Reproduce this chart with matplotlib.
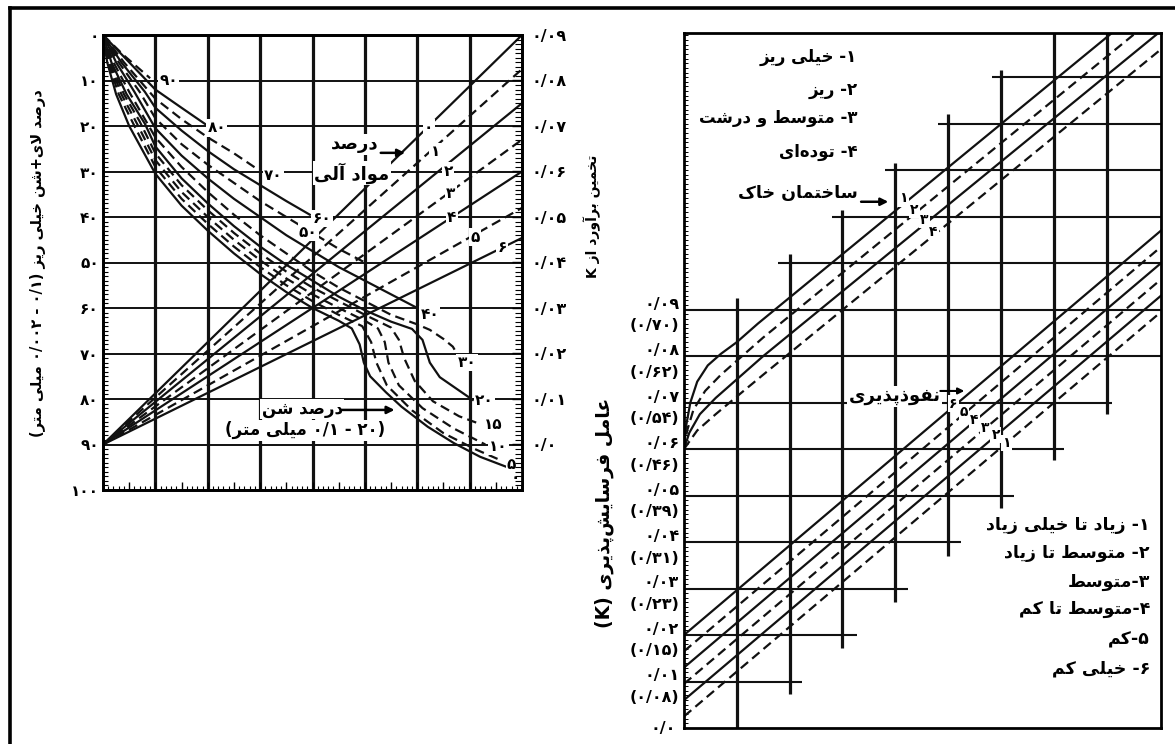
import re
import matplotlib
matplotlib.use("Agg")
import matplotlib.pyplot as plt
from matplotlib.lines import Line2D
from matplotlib.ticker import MultipleLocator, NullFormatter

plt.rcParams['font.family'] = ['DejaVu Sans']
plt.rcParams['font.weight'] = 'bold'

# ------------------------------------------------------------------
# Persian shaping (presentation forms) + simple visual reordering
# ------------------------------------------------------------------
FORMS = {
    'ا': ('\uFE8D', '\uFE8E', None, None),
    'آ': ('\uFE81', '\uFE82', None, None),
    'ب': ('\uFE8F', '\uFE90', '\uFE91', '\uFE92'),
    'پ': ('\uFB56', '\uFB57', '\uFB58', '\uFB59'),
    'ت': ('\uFE95', '\uFE96', '\uFE97', '\uFE98'),
    'خ': ('\uFEA5', '\uFEA6', '\uFEA7', '\uFEA8'),
    'د': ('\uFEA9', '\uFEAA', None, None),
    'ذ': ('\uFEAB', '\uFEAC', None, None),
    'ر': ('\uFEAD', '\uFEAE', None, None),
    'ز': ('\uFEAF', '\uFEB0', None, None),
    'س': ('\uFEB1', '\uFEB2', '\uFEB3', '\uFEB4'),
    'ش': ('\uFEB5', '\uFEB6', '\uFEB7', '\uFEB8'),
    'ص': ('\uFEB9', '\uFEBA', '\uFEBB', '\uFEBC'),
    'ط': ('\uFEC1', '\uFEC2', '\uFEC3', '\uFEC4'),
    'ع': ('\uFEC9', '\uFECA', '\uFECB', '\uFECC'),
    'ف': ('\uFED1', '\uFED2', '\uFED3', '\uFED4'),
    'ک': ('\uFB8E', '\uFB8F', '\uFB90', '\uFB91'),
    'ل': ('\uFEDD', '\uFEDE', '\uFEDF', '\uFEE0'),
    'م': ('\uFEE1', '\uFEE2', '\uFEE3', '\uFEE4'),
    'ن': ('\uFEE5', '\uFEE6', '\uFEE7', '\uFEE8'),
    'و': ('\uFEED', '\uFEEE', None, None),
    'ه': ('\uFEE9', '\uFEEA', '\uFEEB', '\uFEEC'),
    'ی': ('\uFBFC', '\uFBFD', '\uFBFE', '\uFBFF'),
}
LAMALEF = {'ا': ('\uFEFB', '\uFEFC'), 'آ': ('\uFEF5', '\uFEF6')}


def _dual(c):
    return c in FORMS and FORMS[c][2] is not None


def shape(s):
    out = []
    n = len(s)
    i = 0
    while i < n:
        c = s[i]
        if c == '\u200c':
            i += 1
            continue
        if c not in FORMS:
            out.append(c)
            i += 1
            continue
        prev = s[i - 1] if i > 0 else None
        pj = prev is not None and _dual(prev)
        if c == 'ل' and i + 1 < n and s[i + 1] in LAMALEF:
            lig = LAMALEF[s[i + 1]]
            out.append(lig[1] if pj else lig[0])
            i += 2
            continue
        nxt = s[i + 1] if i + 1 < n else None
        nj = _dual(c) and nxt is not None and nxt in FORMS
        f = FORMS[c]
        if pj and nj:
            g = f[3]
        elif pj:
            g = f[1]
        elif nj:
            g = f[2]
        else:
            g = f[0]
        out.append(g)
        i += 1
    return ''.join(out)


def fa(s):
    rev = shape(s)[::-1]
    rev = re.sub(r'[0-9۰-۹][0-9۰-۹/.]*[0-9۰-۹]|[0-9۰-۹]',
                 lambda m: m.group(0)[::-1], rev)
    return rev.translate(str.maketrans('()', ')('))


# ------------------------------------------------------------------
# DATA - left panel (x: construction columns 0-8, y: silt+vfs %)
# ------------------------------------------------------------------
silt_ticks = [0, 10, 20, 30, 40, 50, 60, 70, 80, 90, 100]
silt_tick_labels = ['۰', '۱۰', '۲۰', '۳۰', '۴۰', '۵۰', '۶۰', '۷۰', '۸۰', '۹۰', '۱۰۰']
k1_ticks = [0, 10, 20, 30, 40, 50, 60, 70, 80, 90]
k1_tick_labels = ['۰/۰۹', '۰/۰۸', '۰/۰۷', '۰/۰۶', '۰/۰۵', '۰/۰۴', '۰/۰۳', '۰/۰۲', '۰/۰۱', '۰/۰']
left_vgrid_x = [1, 2, 3, 4, 5, 6, 7]
left_hgrid_y = [10, 20, 30, 40, 50, 60, 70, 80, 90]

# percent sand curves
sand_90 = [(0, 0), (0.4, 4.5), (0.9, 9.5)]
sand_80 = [(0, 0), (0.5, 6), (1, 12), (1.5, 16), (1.98, 19.8)]
sand_70 = [(0, 0), (0.4, 6), (1, 14), (1.5, 18.5), (2, 22.5), (2.5, 26), (2.95, 29.5)]
sand_60 = [(0, 0), (0.35, 6), (0.8, 12.5), (1, 16), (1.5, 21), (2, 25.5), (2.5, 29.5),
           (3, 33), (3.5, 36.5), (3.95, 39.5)]
sand_50 = [(0, 0), (0.3, 6), (0.7, 12.5), (1, 18.3), (1.5, 24), (2, 28.5), (2.5, 32.5),
           (3, 36.5), (3.5, 40), (4, 43.5), (4.5, 47), (5, 50)]
sand_40 = [(0, 0), (0.25, 6), (0.6, 12.5), (1, 20.5), (1.5, 26.5), (2, 31.5), (2.5, 36),
           (3, 40), (3.5, 44), (4, 47.5), (4.5, 51), (5, 54), (5.5, 57), (6, 60)]
sand_30 = [(0, 0), (0.2, 6), (0.5, 12.5), (1, 22.5), (1.5, 29), (2, 34.5), (2.5, 39.5),
           (3, 44), (3.5, 48), (4, 52), (4.5, 55.5), (5, 58.5), (5.5, 61.5), (6, 63.6),
           (6.24, 64.8), (6.5, 66.8), (6.68, 68.5), (6.77, 70.3)]
sand_20 = [(0, 0), (0.16, 6), (0.45, 13), (0.8, 19.5), (1, 24.5), (1.5, 31.5), (2, 37),
           (2.5, 42), (3, 46.5), (3.5, 50.5), (4, 54), (4.5, 57.5), (5, 60.5), (5.5, 63),
           (5.9, 64.6), (6.1, 67), (6.24, 72), (6.43, 75.2), (6.87, 78.7), (7.06, 80.2)]
sand_15 = [(0, 0), (0.14, 6), (0.4, 13), (0.7, 19), (1, 26), (1.5, 33), (2, 38.5),
           (2.5, 43.5), (3, 48), (3.5, 52), (4, 55.5), (4.5, 58.5), (5, 61.5), (5.5, 64.3),
           (5.65, 67), (5.75, 71), (5.95, 76), (6.3, 80.5), (6.8, 83.8), (7.2, 85.5)]
sand_10 = [(0, 0), (0.12, 6), (0.35, 13), (0.65, 19.5), (1, 27.5), (1.5, 34.5), (2, 40),
           (2.5, 45), (3, 49.5), (3.5, 53.5), (4, 57), (4.5, 60), (5, 62.8), (5.25, 64.5),
           (5.38, 67.5), (5.45, 72), (5.65, 77), (6.1, 82), (6.7, 86.5), (7.3, 90)]
sand_5 = [(0, 0), (0.1, 6), (0.3, 13), (0.6, 20), (1, 29), (1.5, 36), (2, 41.5),
          (2.5, 46.5), (3, 51), (3.5, 55), (4, 58.5), (4.5, 61.5), (4.95, 64),
          (5.12, 67.5), (5.22, 72), (5.42, 77), (5.9, 82.5), (6.5, 87.5), (7.1, 91), (7.6, 93.5)]
sand_0 = [(0, 0), (0.08, 6), (0.25, 13), (0.5, 20), (1, 30.5), (1.5, 37.5), (2, 43),
          (2.5, 48), (3, 52.5), (3.5, 56.5), (4, 60), (4.5, 62.8), (4.75, 64.5),
          (4.9, 68), (4.98, 72), (5.1, 75), (5.4, 78.5), (5.7, 81.7), (6.2, 86.1),
          (6.7, 89.7), (7.2, 92.7), (7.7, 94.9), (7.95, 96.3)]
sand_curves = [sand_90, sand_80, sand_70, sand_60, sand_50, sand_40,
               sand_30, sand_20, sand_15, sand_10, sand_5, sand_0]
sand_dashed = [True, False, True, False, True, False, True, False, True, True, True, False]
sand_labels = ['۹۰', '۸۰', '۷۰', '۶۰', '۵۰', '۴۰', '۳۰', '۲۰', '۱۵', '۱۰', '۵', '۰']
sand_label_x = [1.25, 2.17, 3.25, 4.18, 3.92, 6.24, 6.95, 7.28, 7.45, 7.55, 7.8, 7.88]
sand_label_y = [10, 20.4, 30.8, 40.3, 43.3, 61.5, 72, 80.4, 85.7, 90.5, 94.3, 97.2]

# percent organic matter lines (from the left edge at y=90 to the right edge)
om_origin_y = 90
om_x = [0, 8]
om_end_y = [0, 7.5, 15, 23, 30, 38, 44.6]
om_dashed = [False, True, False, True, False, True, False]
om_labels = ['۰', '۱', '۲', '۳', '۴', '۵', '۶']
om_label_x = [6.22, 6.34, 6.59, 6.64, 6.66, 7.1, 7.62]
om_label_y = [20.4, 25.7, 29.9, 34.9, 40.0, 44.4, 46.8]

# ------------------------------------------------------------------
# DATA - right panel (x: columns 0-9, y: K x 100)
# ------------------------------------------------------------------
k_ticks = [0, 1, 2, 3, 4, 5, 6, 7, 8, 9]
k_labels = ['۰/۰', '۰/۰۱', '۰/۰۲', '۰/۰۳', '۰/۰۴', '۰/۰۵', '۰/۰۶', '۰/۰۷', '۰/۰۸', '۰/۰۹']
k_si_labels = ['', '(۰/۰۸)', '(۰/۱۵)', '(۰/۲۳)', '(۰/۳۱)', '(۰/۳۹)',
               '(۰/۴۶)', '(۰/۵۴)', '(۰/۶۲)', '(۰/۷۰)']

right_hgrid_k = [1, 2, 3, 4, 5, 6, 7, 8, 9, 10, 11, 12, 13, 14]
right_hgrid_x0 = [0, 0, 0, 0, 0, 0, 0, 0, 0, 1.78, 2.8, 3.8, 4.8, 5.83]
right_hgrid_x1 = [2.23, 3.28, 4.24, 5.25, 6.25, 7.2, 8.1, 9.03, 9.03, 9.03, 9.03, 9.03, 9.03, 9.03]
right_vgrid_x = [1, 2, 3, 4, 5, 6, 7, 8]
right_vgrid_k0 = [0, 0.73, 1.72, 2.71, 3.7, 4.73, 5.76, 6.75]
right_vgrid_k1 = [9.25, 10.2, 11.14, 12.15, 13.2, 14.15, 14.95, 14.95]

# soil structure lines
struct_1 = [(0, 6.0), (0.04, 6.5), (0.12, 7.0), (0.25, 7.45), (0.45, 7.8), (0.7, 8.05),
            (1.0, 8.3), (1.4, 8.7), (8.1, 14.95)]
struct_2 = [(0, 6.0), (0.06, 6.4), (0.18, 6.85), (0.4, 7.25), (0.7, 7.6), (1.0, 7.9),
            (1.5, 8.4), (8.55, 14.95)]
struct_3 = [(0, 6.0), (0.1, 6.35), (0.3, 6.75), (0.6, 7.1), (1.0, 7.5), (1.5, 8.0),
            (8.98, 14.95)]
struct_4 = [(0, 6.0), (0.25, 6.4), (0.6, 6.75), (1.0, 7.13), (1.5, 7.6), (9.03, 14.6)]
struct_lines = [struct_1, struct_2, struct_3, struct_4]
struct_dashed = [False, True, False, True]
struct_labels = ['۱', '۲', '۳', '۴']
struct_label_x = [4.15, 4.36, 4.55, 4.72]
struct_label_k = [11.39, 11.14, 10.93, 10.68]

# permeability lines (6 = top ... 1 = bottom)
perm_x = [0, 9.03]
perm_k_left = [2.0, 1.65, 1.3, 0.95, 0.6, 0.25]
perm_k_right = [10.7, 10.35, 10.0, 9.65, 9.3, 8.95]
perm_dashed = [False, True, False, True, False, True]
perm_labels = ['۶', '۵', '۴', '۳', '۲', '۱']
perm_label_x = [5.1, 5.3, 5.5, 5.7, 5.9, 6.1]
perm_label_k = [6.98, 6.8, 6.63, 6.46, 6.3, 6.13]

structure_legend = ['۱- خیلی ریز', '۲- ریز', '۳- متوسط و درشت', '۴- توده\u200cای']
structure_legend_k = [14.43, 13.72, 13.12, 12.39]
perm_legend = ['۱- زیاد تا خیلی زیاد', '۲- متوسط تا زیاد', '۳-متوسط',
               '۴-متوسط تا کم', '۵-کم', '۶- خیلی کم']
perm_legend_k = [4.37, 3.77, 3.15, 2.56, 1.9, 1.28]

# ------------------------------------------------------------------
W, H = 1175, 744
fig = plt.figure(figsize=(W / 100, H / 100), dpi=100)
fig.patch.set_facecolor('white')

# outer frame (top and left)
fig.add_artist(Line2D([10 / W, 1.0], [1 - 8 / H, 1 - 8 / H], transform=fig.transFigure,
                      color='k', lw=2.6))
fig.add_artist(Line2D([10 / W, 10 / W], [0, 1 - 8 / H], transform=fig.transFigure,
                      color='k', lw=2.6))

LW = 1.6
DASH = (0, (4.3, 2.4))
INK = '#111111'

# ---------------- left panel ----------------
axL = fig.add_axes([103 / W, 1 - 490 / H, 419 / W, 455 / H])
axL.set_xlim(0, 8)
axL.set_ylim(100, 0)
for sp in axL.spines.values():
    sp.set_linewidth(2.0)
axL.set_yticks(silt_ticks)
axL.set_yticklabels(silt_tick_labels, fontsize=11)
axL.yaxis.set_minor_locator(MultipleLocator(1))
axL.tick_params(axis='y', which='major', length=0, pad=3)
axL.tick_params(axis='y', which='minor', direction='in', length=3.5, width=0.8)
axL.xaxis.set_major_locator(MultipleLocator(0.5))
axL.xaxis.set_minor_locator(MultipleLocator(0.1))
axL.xaxis.set_major_formatter(NullFormatter())
axL.tick_params(axis='x', which='major', direction='in', length=6, width=1)
axL.tick_params(axis='x', which='minor', direction='in', length=3, width=0.8)

axL2 = axL.twinx()
axL2.set_ylim(100, 0)
axL2.set_yticks(k1_ticks)
axL2.set_yticklabels(k1_tick_labels, fontsize=11.5)
axL2.yaxis.set_minor_locator(MultipleLocator(1))
axL2.tick_params(axis='y', which='major', direction='in', length=7, width=1, pad=7)
axL2.tick_params(axis='y', which='minor', direction='in', length=5, width=0.8)
for sp in axL2.spines.values():
    sp.set_linewidth(2.0)

axL.vlines(left_vgrid_x, 0, 100, color=INK, lw=2.3, zorder=1)
axL.hlines(left_hgrid_y, 0, 8, color=INK, lw=1.4, zorder=1)

for pts, dashed in zip(sand_curves, sand_dashed):
    xs = [p[0] for p in pts]
    ys = [p[1] for p in pts]
    axL.plot(xs, ys, color=INK, lw=LW, ls=DASH if dashed else '-', zorder=2)

for yend, dashed in zip(om_end_y, om_dashed):
    axL.plot(om_x, [om_origin_y, yend], color=INK, lw=LW,
             ls=DASH if dashed else '-', zorder=2)

lab_box = dict(boxstyle='square,pad=0.08', fc='white', ec='none')
for t, x, y in zip(sand_labels, sand_label_x, sand_label_y):
    axL.text(x, y, t, fontsize=11, ha='center', va='center', bbox=lab_box, zorder=4)
for t, x, y in zip(om_labels, om_label_x, om_label_y):
    axL.text(x, y, t, fontsize=11, ha='center', va='center', bbox=lab_box, zorder=4)

axL.text(4.81, 24.0, fa('درصد'), fontsize=13, ha='center', va='center',
         bbox=lab_box, zorder=4)
axL.text(4.75, 30.3, fa('مواد آلی'), fontsize=13, ha='center', va='center',
         bbox=lab_box, zorder=4)
axL.annotate('', xy=(5.82, 25.9), xytext=(5.25, 25.9),
             arrowprops=dict(arrowstyle='-|>', color='k', lw=1.8, mutation_scale=11),
             zorder=4)
axL.text(3.8, 82.2, fa('درصد شن'), fontsize=12, ha='center', va='center',
         bbox=lab_box, zorder=4)
axL.annotate('', xy=(5.62, 82.4), xytext=(4.5, 82.4),
             arrowprops=dict(arrowstyle='-|>', color='k', lw=1.8, mutation_scale=11),
             zorder=4)
axL.text(3.86, 86.9, fa('(۲۰ - ۰/۱ میلی متر)'), fontsize=12,
         ha='center', va='center', bbox=lab_box, zorder=4)

fig.text(38 / W, 1 - 263 / H, fa('درصد لای+شن خیلی ریز (۰/۱ - ۰/۰۰۲ میلی متر)'),
         rotation=90, fontsize=10.5, ha='center', va='center')
fig.text(592 / W, 1 - 216 / H, fa('تخمین برآورد از K'),
         rotation=90, fontsize=10, ha='center', va='center')

# ---------------- right panel ----------------
axK = fig.add_axes([684 / W, 1 - 728 / H, 477 / W, 695 / H])
axK.set_xlim(0, 9.03)
axK.set_ylim(0, 14.95)
for sp in axK.spines.values():
    sp.set_linewidth(2.0)
axK.set_xticks([])
axK.set_yticks(k_ticks)
axK.set_yticklabels([])
axK.yaxis.set_minor_locator(MultipleLocator(0.1))
axK.tick_params(axis='y', which='major', length=0)
axK.tick_params(axis='y', which='minor', direction='in', length=3, width=0.7)

axK.hlines(right_hgrid_k, right_hgrid_x0, right_hgrid_x1, color=INK, lw=1.5, zorder=1)
axK.vlines(right_vgrid_x, right_vgrid_k0, right_vgrid_k1, color=INK, lw=2.3, zorder=1)

for pts, dashed in zip(struct_lines, struct_dashed):
    xs = [p[0] for p in pts]
    ys = [p[1] for p in pts]
    axK.plot(xs, ys, color=INK, lw=LW, ls=DASH if dashed else '-', zorder=2)

for k0, k1, dashed in zip(perm_k_left, perm_k_right, perm_dashed):
    axK.plot(perm_x, [k0, k1], color=INK, lw=LW, ls=DASH if dashed else '-', zorder=2)

for t, x, y in zip(struct_labels, struct_label_x, struct_label_k):
    axK.text(x, y, t, fontsize=10, ha='center', va='center', bbox=lab_box, zorder=4)
for t, x, y in zip(perm_labels, perm_label_x, perm_label_k):
    axK.text(x, y, t, fontsize=10, ha='center', va='center', bbox=lab_box, zorder=4)

for k, top, si in zip(k_ticks, k_labels, k_si_labels):
    if si:
        axK.annotate(top, xy=(0, k), xycoords=('axes fraction', 'data'),
                     xytext=(-3.5, 4), textcoords='offset points',
                     ha='right', va='center', fontsize=11.5)
        axK.annotate(si, xy=(0, k), xycoords=('axes fraction', 'data'),
                     xytext=(-3.5, -11.5), textcoords='offset points',
                     ha='right', va='center', fontsize=11.5)
    else:
        axK.annotate(top, xy=(0, k), xycoords=('axes fraction', 'data'),
                     xytext=(-6, 0), textcoords='offset points',
                     ha='right', va='center', fontsize=11.5)

for t, k in zip(structure_legend, structure_legend_k):
    axK.text(3.28, k, fa(t), fontsize=12, ha='right', va='center', zorder=4)
axK.text(3.28, 11.5, fa('ساختمان خاک'), fontsize=12.5, ha='right', va='center',
         bbox=lab_box, zorder=4)
axK.annotate('', xy=(3.92, 11.32), xytext=(3.3, 11.32),
             arrowprops=dict(arrowstyle='-|>', color='k', lw=1.8, mutation_scale=11),
             zorder=4)

for t, k in zip(perm_legend, perm_legend_k):
    axK.text(8.82, k, fa(t), fontsize=12.5, ha='right', va='center', zorder=4)

axK.text(3.99, 7.14, fa('نفوذپذیری'), fontsize=13, ha='center', va='center',
         bbox=lab_box, zorder=4)
axK.annotate('', xy=(5.36, 7.25), xytext=(4.8, 7.25),
             arrowprops=dict(arrowstyle='-|>', color='k', lw=1.5, mutation_scale=9),
             zorder=4)

fig.text(604 / W, 1 - 513 / H, fa('عامل فرسایش\u200cپذیری (K)'),
         rotation=90, fontsize=13.5, ha='center', va='center')

fig.savefig('out.png', dpi=100, facecolor='white')
